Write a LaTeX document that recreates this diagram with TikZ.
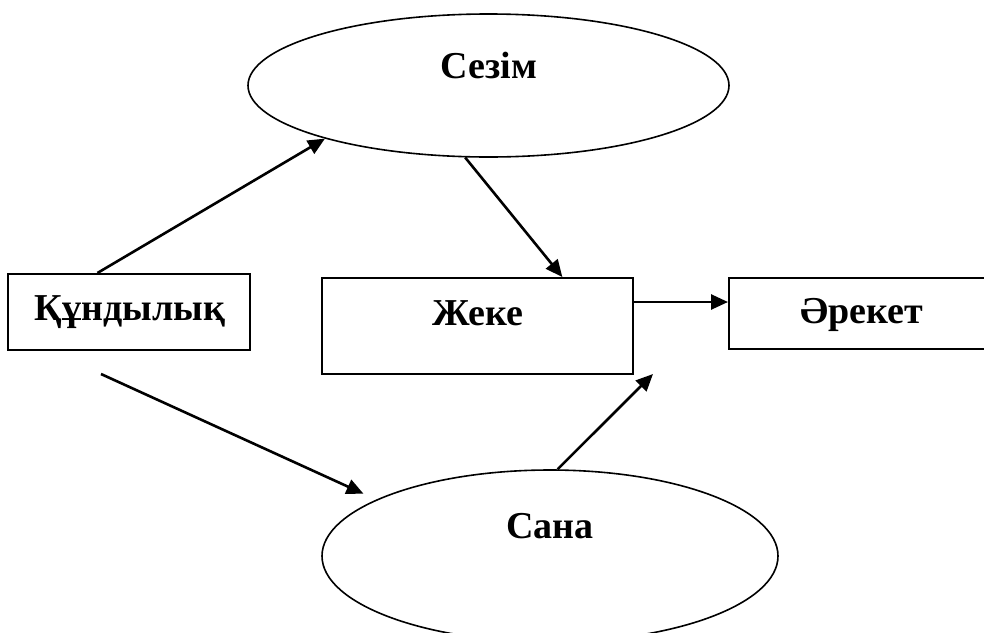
\documentclass[tikz,border=0pt]{standalone}
\usepackage{fontspec}
\setmainfont{Liberation Serif}
\usetikzlibrary{positioning}
\usetikzlibrary{shapes.geometric}
\usetikzlibrary{arrows.meta}

\begin{document}
\begin{tikzpicture}[every node/.style={inner sep=0pt},
  box/.style={rectangle, draw=black, line width=1pt},
  oval/.style={ellipse, draw=black, line width=0.8pt},
  word/.style={anchor=base, font=\bfseries\fontsize{19}{22}\selectfont},
  arr/.style={line width=1.3pt, color=black, -{Triangle[length=8.5pt, width=7.5pt]}}]
\useasboundingbox (0pt, 0pt) rectangle (492pt, -316pt);
\node (1) [box, minimum width=121pt, minimum height=38pt] at (64.5pt, -156pt) {};
\node (2) [oval, minimum width=240.5pt, minimum height=71.5pt] at (244.25pt, -42.75pt) {};
\node (3) [box, minimum width=155.5pt, minimum height=48pt] at (238.75pt, -163pt) {};
\node (4) [box, minimum width=129.5pt, minimum height=35.5pt] at (429.25pt, -156.75pt) {};
\node (5) [oval, minimum width=228pt, minimum height=86pt] at (275pt, -278pt) {};
\node (1t) [word] at (65pt, -160pt) {Құндылық};
\node (2t) [word] at (244.5pt, -39pt) {Сезім};
\node (3t) [word] at (239pt, -162.5pt) {Жеке};
\node (4t) [word] at (431pt, -161.5pt) {Әрекет};
\node (5t) [word] at (275pt, -269pt) {Сана};
\coordinate (1b) at (50.5pt, -187pt);
\coordinate (3c) at (326.5pt, -187pt);
\draw [arr] (1.129) to (2.198);
\draw [arr] (2.252) to (3.30);
\draw [arr] ([yshift=12pt]3.east) to ([yshift=12pt]3.east -| 4.west);
\draw [arr, shorten >=7pt] (1b) to (5.162);
\draw [arr] (5.85) to (3c);
\end{tikzpicture}
\end{document}
